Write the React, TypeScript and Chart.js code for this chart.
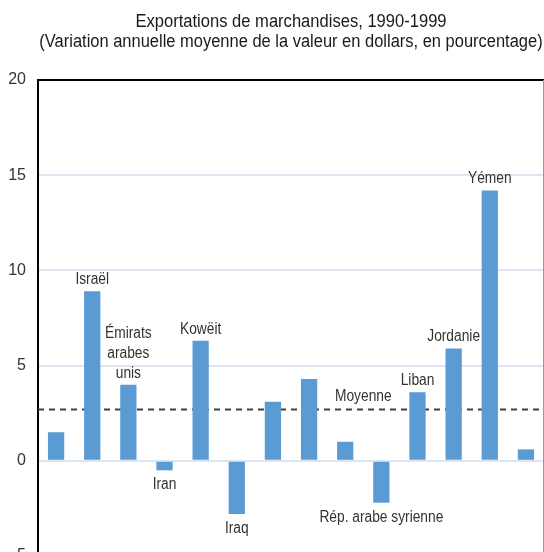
import React, { useEffect, useRef } from "react";
import { Chart, registerables } from "chart.js";

Chart.register(...registerables);

const TITLE = "Exportations de marchandises, 1990-1999";
const SUBTITLE = "(Variation annuelle moyenne de la valeur en dollars, en pourcentage)";

const categories = ["c1", "Israël", "Émirats arabes unis", "Iran", "Kowëit", "Iraq", "c7", "c8", "c9", "Rép. arabe syrienne", "Liban", "Jordanie", "Yémen", "c14"];
const values = [1.5, 8.9, 4.0, -0.5, 6.3, -2.8, 3.1, 4.3, 1.0, -2.2, 3.6, 5.9, 14.2, 0.6];
const barLabels: string[][] = [[], ["Israël"], ["Émirats", "arabes", "unis"], ["Iran"], ["Kowëit"], ["Iraq"], [], [], [], ["Rép. arabe syrienne"], ["Liban"], ["Jordanie"], ["Yémen"], []];
const MEAN = 2.7;
const MEAN_LABEL = "Moyenne";
const MEAN_LABEL_POS = 8.5;
const yTicks = [-5, 0, 5, 10, 15, 20];

const FONT = "'Liberation Sans', Arial, sans-serif";

function drawText(ctx: CanvasRenderingContext2D, text: string, x: number, y: number, sx: number) {
  ctx.save();
  ctx.translate(x, y);
  ctx.scale(sx, 1);
  ctx.fillText(text, 0, 0);
  ctx.restore();
}

const overlay = {
  id: "overlay",
  beforeDatasetsDraw(chart: any) {
    const { ctx, chartArea, scales } = chart;
    const y = scales.y.getPixelForValue(MEAN);
    ctx.save();
    ctx.strokeStyle = "#404040";
    ctx.lineWidth = 2;
    ctx.setLineDash([6, 5]);
    ctx.beginPath();
    ctx.moveTo(chartArea.left, y);
    ctx.lineTo(chartArea.right, y);
    ctx.stroke();
    ctx.setLineDash([]);
    ctx.strokeStyle = "#9a9a9a";
    ctx.lineWidth = 1;
    ctx.beginPath();
    ctx.moveTo(chartArea.right - 0.5, chartArea.top);
    ctx.lineTo(chartArea.right - 0.5, chartArea.bottom);
    ctx.stroke();
    ctx.restore();
  },
  afterDatasetsDraw(chart: any) {
    const { ctx, scales, chartArea } = chart;
    const meta = chart.getDatasetMeta(0);
    ctx.save();
    ctx.font = `16px ${FONT}`;
    ctx.fillStyle = "#333333";
    ctx.textAlign = "center";
    ctx.textBaseline = "alphabetic";
    meta.data.forEach((bar: any, i: number) => {
      const lines = barLabels[i];
      if (!lines || !lines.length) return;
      const v = values[i];
      if (v >= 0) {
        let yy = bar.y - 7;
        for (let k = lines.length - 1; k >= 0; k--) {
          drawText(ctx, lines[k], bar.x, yy, 0.86);
          yy -= 20;
        }
      } else {
        let yy = bar.y + 19;
        for (let k = 0; k < lines.length; k++) {
          drawText(ctx, lines[k], bar.x, yy, 0.86);
          yy += 20;
        }
      }
    });
    const mx = scales.x.getPixelForValue(MEAN_LABEL_POS);
    const my = scales.y.getPixelForValue(MEAN) - 8;
    drawText(ctx, MEAN_LABEL, mx, my, 0.86);

    // titles
    const cx = (chartArea.left + chartArea.right) / 2;
    ctx.fillStyle = "#1a1a1a";
    ctx.font = `18px ${FONT}`;
    drawText(ctx, TITLE, cx, 27, 0.92);
    drawText(ctx, SUBTITLE, cx, 47, 0.915);
    ctx.restore();
  },
};

export default function App() {
  const ref = useRef<HTMLCanvasElement | null>(null);
  useEffect(() => {
    document.body.style.overflow = "hidden";
    const chart = new Chart(ref.current!, {
      type: "bar",
      data: {
        labels: categories,
        datasets: [
          {
            data: values,
            backgroundColor: "#5a9bd3",
            borderWidth: 0,
            barPercentage: 0.45,
            categoryPercentage: 1,
          },
        ],
      },
      options: {
        animation: false,
        responsive: false,
        maintainAspectRatio: false,
        layout: { padding: { left: 0, right: 0, top: 80, bottom: 30 } },
        plugins: {
          legend: { display: false },
          tooltip: { enabled: false },
          title: { display: false },
        },
        scales: {
          x: { display: false },
          y: {
            min: -5,
            max: 20,
            afterBuildTicks(scale: any) {
              scale.ticks = yTicks.map((v) => ({ value: v }));
            },
            afterFit(scale: any) {
              scale.width = 38;
            },
            border: { display: true, color: "#000000", width: 2 },
            grid: {
              drawTicks: false,
              color: (c: any) => (c.tick && c.tick.value === 20 ? "#000000" : c.tick && c.tick.value === -5 ? "rgba(0,0,0,0)" : "#dce6f2"),
              lineWidth: 2,
            },
            ticks: {
              padding: 12,
              color: "#333333",
              font: { family: FONT, size: 16 },
            },
          },
        },
      },
      plugins: [overlay],
    });
    return () => chart.destroy();
  }, []);
  return (
    <div style={{ position: "fixed", left: 0, top: 0, width: 544, height: 552, overflow: "hidden", background: "#fff" }}>
      <canvas ref={ref} width={544} height={586} style={{ width: 544, height: 586, display: "block" }} />
    </div>
  );
}
